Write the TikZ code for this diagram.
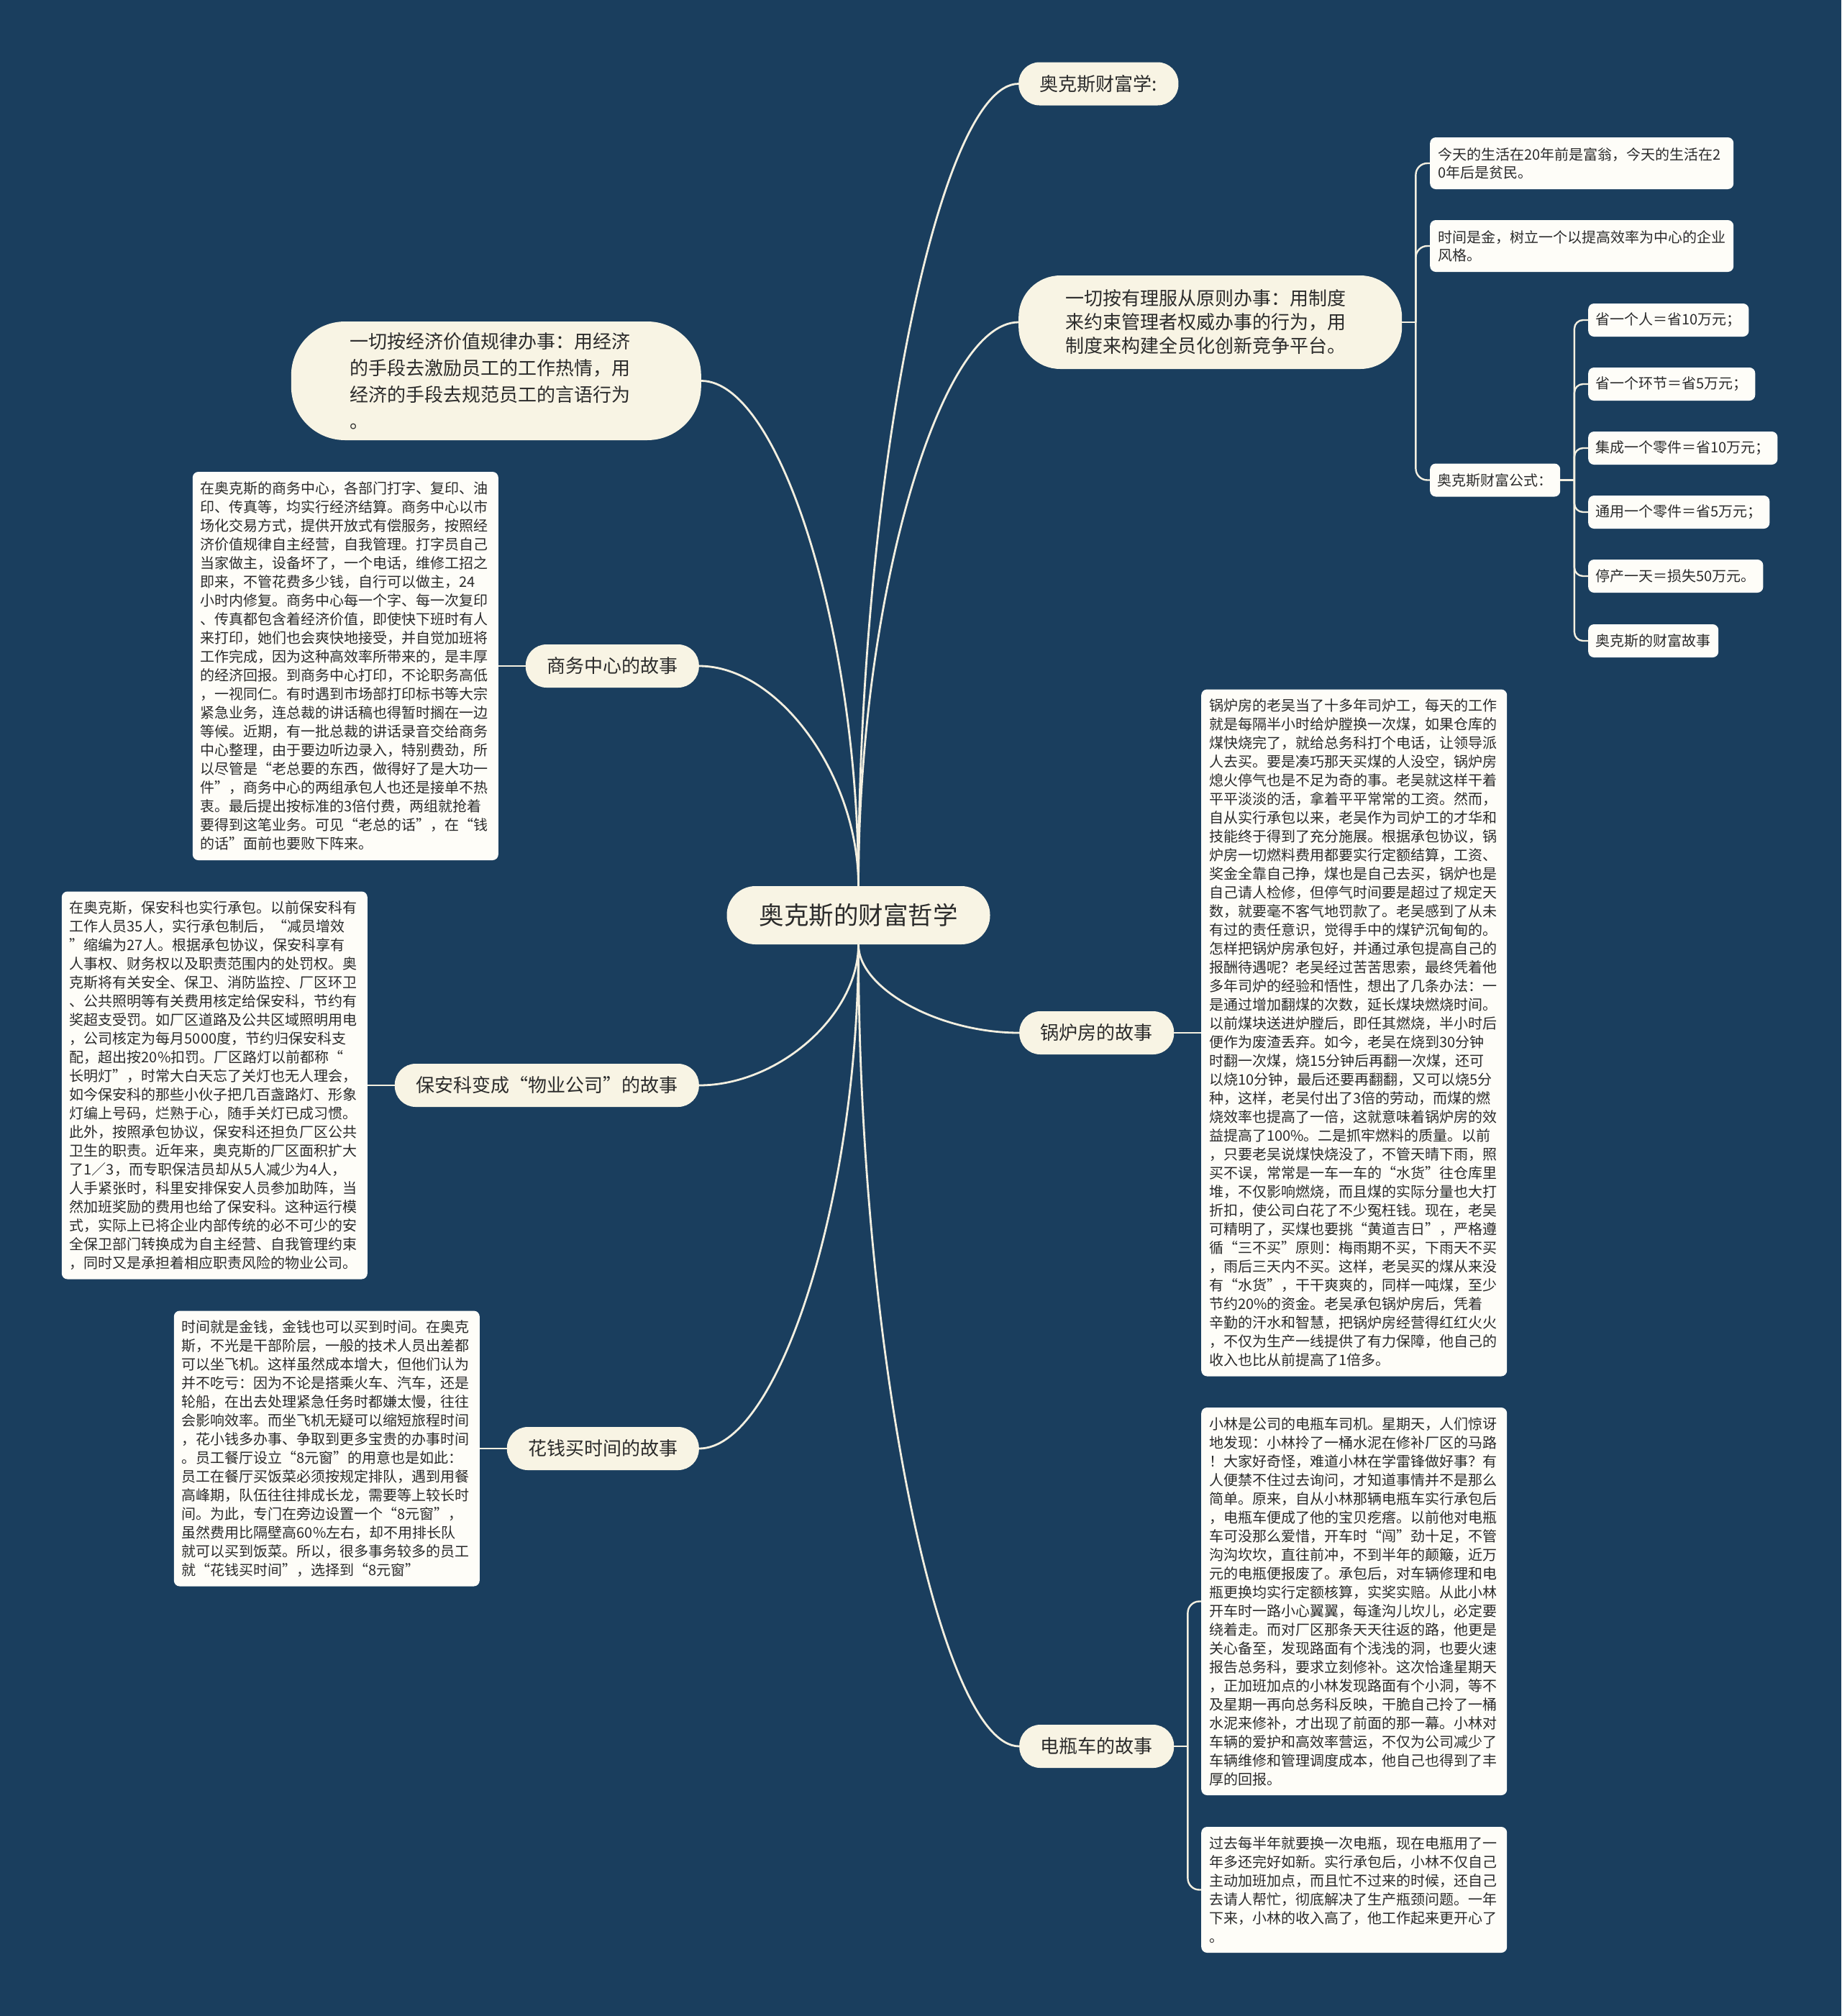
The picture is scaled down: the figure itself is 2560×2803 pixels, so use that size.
\documentclass[tikz,border=0pt]{standalone}
\usepackage{fontspec}
\setmainfont{Noto Sans CJK SC}
\usetikzlibrary{calc}
\definecolor{bg}{HTML}{1A3E5E}
\definecolor{pillc}{HTML}{F8F4E4}
\definecolor{boxc}{HTML}{FEFDF8}
\definecolor{linec}{HTML}{F3EFE0}
\definecolor{txt}{HTML}{2B2B2B}
\begin{document}
\begin{tikzpicture}[x=1pt,y=-1pt,
  pill/.style={fill=pillc, text=txt, rounded corners=29pt, minimum height=60pt, inner xsep=29.5pt, inner ysep=0pt, font=\fontsize{26}{33}\selectfont},
  tbox/.style={fill=boxc, text=txt, rounded corners=8pt, text width=403pt, inner xsep=11pt, inner ysep=0pt, align=left, font=\fontsize{20}{26}\selectfont},
  sbox/.style={fill=boxc, text=txt, rounded corners=8pt, inner xsep=10.5pt, inner ysep=0pt, minimum height=46pt, font=\fontsize{20}{25}\selectfont, anchor=west},
  conn/.style={draw=linec, line width=2.8pt},
  subc/.style={draw=linec, line width=2.4pt},
  curvy/.style={to path={let \p1=(\tikztostart), \p2=(\tikztotarget) in .. controls (\x1,{0.5*\y1+0.5*\y2}) and ({0.5*\x1+0.5*\x2},\y2) .. (\tikztotarget)}}
]
\fill[bg] (0,0) rectangle (2560,2803);
\useasboundingbox (0,0) rectangle (2560,2803);

% central
\node[pill, minimum height=81pt, rounded corners=40pt, inner xsep=45pt, font=\fontsize{34.5}{40}\selectfont] (C) at (1193.5,1272.5) {奥克斯的财富哲学};

% first level
\node[pill, anchor=west] (L1) at (1416,116.5) {奥克斯财富学:};
\node[pill, anchor=west, minimum height=130pt, rounded corners=58pt, inner xsep=65pt, text width=403pt, align=left] (L2) at (1416,448) {一切按有理服从原则办事：用制度\\来约束管理者权威办事的行为，用\\制度来构建全员化创新竞争平台。};
\node[pill, anchor=east, minimum height=165pt, rounded corners=75pt, inner xsep=82pt, text width=406pt, align=left, font=\fontsize{26}{37}\selectfont] (L3) at (975,529.5) {一切按经济价值规律办事：用经济\\的手段去激励员工的工作热情，用\\经济的手段去规范员工的言语行为\\。};
\node[pill, anchor=east] (L4) at (972,926) {商务中心的故事};
\node[pill, anchor=east] (L5) at (972,1509) {保安科变成“物业公司”的故事};
\node[pill, anchor=east] (L6) at (972,2014) {花钱买时间的故事};
\node[pill, anchor=west] (R1) at (1417,1436) {锅炉房的故事};
\node[pill, anchor=west] (R2) at (1417,2428) {电瓶车的故事};

% second level under L2
\node[sbox, text width=400pt, align=left, inner xsep=11pt, minimum height=72pt] (S1) at (1988,227) {今天的生活在20年前是富翁，今天的生活在2\\0年后是贫民。};
\node[sbox, text width=400pt, align=left, inner xsep=11pt, minimum height=72pt] (S2) at (1988,342) {时间是金，树立一个以提高效率为中心的企业\\风格。};
\node[sbox] (S3) at (1988,667.5) {奥克斯财富公式：};

\node[sbox] (F1) at (2208,445) {省一个人＝省10万元；};
\node[sbox] (F2) at (2208,534) {省一个环节＝省5万元；};
\node[sbox] (F3) at (2208,623) {集成一个零件＝省10万元；};
\node[sbox] (F4) at (2208,712) {通用一个零件＝省5万元；};
\node[sbox] (F5) at (2208,801) {停产一天＝损失50万元。};
\node[sbox] (F6) at (2208,891) {奥克斯的财富故事};

% text boxes
\node[tbox, minimum height=540pt, anchor=east] (T1) at (693,926) {在奥克斯的商务中心，各部门打字、复印、油\\印、传真等，均实行经济结算。商务中心以市\\场化交易方式，提供开放式有偿服务，按照经\\济价值规律自主经营，自我管理。打字员自己\\当家做主，设备坏了，一个电话，维修工招之\\即来，不管花费多少钱，自行可以做主，24\\小时内修复。商务中心每一个字、每一次复印\\、传真都包含着经济价值，即使快下班时有人\\来打印，她们也会爽快地接受，并自觉加班将\\工作完成，因为这种高效率所带来的，是丰厚\\的经济回报。到商务中心打印，不论职务高低\\，一视同仁。有时遇到市场部打印标书等大宗\\紧急业务，连总裁的讲话稿也得暂时搁在一边\\等候。近期，有一批总裁的讲话录音交给商务\\中心整理，由于要边听边录入，特别费劲，所\\以尽管是“老总要的东西，做得好了是大功一\\件”，商务中心的两组承包人也还是接单不热\\衷。最后提出按标准的3倍付费，两组就抢着\\要得到这笔业务。可见“老总的话”，在“钱\\的话”面前也要败下阵来。};

\node[tbox, minimum height=539pt, anchor=east] (T2) at (511,1509) {在奥克斯，保安科也实行承包。以前保安科有\\工作人员35人，实行承包制后，“减员增效\\”缩编为27人。根据承包协议，保安科享有\\人事权、财务权以及职责范围内的处罚权。奥\\克斯将有关安全、保卫、消防监控、厂区环卫\\、公共照明等有关费用核定给保安科，节约有\\奖超支受罚。如厂区道路及公共区域照明用电\\，公司核定为每月5000度，节约归保安科支\\配，超出按20\%扣罚。厂区路灯以前都称“\\长明灯”，时常大白天忘了关灯也无人理会，\\如今保安科的那些小伙子把几百盏路灯、形象\\灯编上号码，烂熟于心，随手关灯已成习惯。\\此外，按照承包协议，保安科还担负厂区公共\\卫生的职责。近年来，奥克斯的厂区面积扩大\\了1／3，而专职保洁员却从5人减少为4人，\\人手紧张时，科里安排保安人员参加助阵，当\\然加班奖励的费用也给了保安科。这种运行模\\式，实际上已将企业内部传统的必不可少的安\\全保卫部门转换成为自主经营、自我管理约束\\，同时又是承担着相应职责风险的物业公司。};

\node[tbox, minimum height=383pt, anchor=east] (T3) at (667,2014) {时间就是金钱，金钱也可以买到时间。在奥克\\斯，不光是干部阶层，一般的技术人员出差都\\可以坐飞机。这样虽然成本增大，但他们认为\\并不吃亏：因为不论是搭乘火车、汽车，还是\\轮船，在出去处理紧急任务时都嫌太慢，往往\\会影响效率。而坐飞机无疑可以缩短旅程时间\\，花小钱多办事、争取到更多宝贵的办事时间\\。员工餐厅设立“8元窗”的用意也是如此：\\员工在餐厅买饭菜必须按规定排队，遇到用餐\\高峰期，队伍往往排成长龙，需要等上较长时\\间。为此，专门在旁边设置一个“8元窗”，\\虽然费用比隔壁高60\%左右，却不用排长队\\就可以买到饭菜。所以，很多事务较多的员工\\就“花钱买时间”，选择到“8元窗”};

\node[tbox, minimum height=955pt, anchor=west] (T4) at (1670,1436) {锅炉房的老吴当了十多年司炉工，每天的工作\\就是每隔半小时给炉膛换一次煤，如果仓库的\\煤快烧完了，就给总务科打个电话，让领导派\\人去买。要是凑巧那天买煤的人没空，锅炉房\\熄火停气也是不足为奇的事。老吴就这样干着\\平平淡淡的活，拿着平平常常的工资。然而，\\自从实行承包以来，老吴作为司炉工的才华和\\技能终于得到了充分施展。根据承包协议，锅\\炉房一切燃料费用都要实行定额结算，工资、\\奖金全靠自己挣，煤也是自己去买，锅炉也是\\自己请人检修，但停气时间要是超过了规定天\\数，就要毫不客气地罚款了。老吴感到了从未\\有过的责任意识，觉得手中的煤铲沉甸甸的。\\怎样把锅炉房承包好，并通过承包提高自己的\\报酬待遇呢？老吴经过苦苦思索，最终凭着他\\多年司炉的经验和悟性，想出了几条办法：一\\是通过增加翻煤的次数，延长煤块燃烧时间。\\以前煤块送进炉膛后，即任其燃烧，半小时后\\便作为废渣丢弃。如今，老吴在烧到30分钟\\时翻一次煤，烧15分钟后再翻一次煤，还可\\以烧10分钟，最后还要再翻翻，又可以烧5分\\种，这样，老吴付出了3倍的劳动，而煤的燃\\烧效率也提高了一倍，这就意味着锅炉房的效\\益提高了100\%。二是抓牢燃料的质量。以前\\，只要老吴说煤快烧没了，不管天晴下雨，照\\买不误，常常是一车一车的“水货”往仓库里\\堆，不仅影响燃烧，而且煤的实际分量也大打\\折扣，使公司白花了不少冤枉钱。现在，老吴\\可精明了，买煤也要挑“黄道吉日”，严格遵\\循“三不买”原则：梅雨期不买，下雨天不买\\，雨后三天内不买。这样，老吴买的煤从来没\\有“水货”，干干爽爽的，同样一吨煤，至少\\节约20\%的资金。老吴承包锅炉房后，凭着\\辛勤的汗水和智慧，把锅炉房经营得红红火火\\，不仅为生产一线提供了有力保障，他自己的\\收入也比从前提高了1倍多。};

\node[tbox, minimum height=539pt, anchor=west] (T5) at (1670,2226.5) {小林是公司的电瓶车司机。星期天，人们惊讶\\地发现：小林拎了一桶水泥在修补厂区的马路\\！大家好奇怪，难道小林在学雷锋做好事？有\\人便禁不住过去询问，才知道事情并不是那么\\简单。原来，自从小林那辆电瓶车实行承包后\\，电瓶车便成了他的宝贝疙瘩。以前他对电瓶\\车可没那么爱惜，开车时“闯”劲十足，不管\\沟沟坎坎，直往前冲，不到半年的颠簸，近万\\元的电瓶便报废了。承包后，对车辆修理和电\\瓶更换均实行定额核算，实奖实赔。从此小林\\开车时一路小心翼翼，每逢沟儿坎儿，必定要\\绕着走。而对厂区那条天天往返的路，他更是\\关心备至，发现路面有个浅浅的洞，也要火速\\报告总务科，要求立刻修补。这次恰逢星期天\\，正加班加点的小林发现路面有个小洞，等不\\及星期一再向总务科反映，干脆自己拎了一桶\\水泥来修补，才出现了前面的那一幕。小林对\\车辆的爱护和高效率营运，不仅为公司减少了\\车辆维修和管理调度成本，他自己也得到了丰\\厚的回报。};

\node[tbox, minimum height=175pt, anchor=west] (T6) at (1670,2627.5) {过去每半年就要换一次电瓶，现在电瓶用了一\\年多还完好如新。实行承包后，小林不仅自己\\主动加班加点，而且忙不过来的时候，还自己\\去请人帮忙，彻底解决了生产瓶颈问题。一年\\下来，小林的收入高了，他工作起来更开心了\\。};

% central connectors
\draw[conn, curvy] (C.north) to (L1.west);
\draw[conn, curvy] (C.north) to (L2.west);
\draw[conn, curvy] (C.north) to (L3.east);
\draw[conn, curvy] (C.north) to (L4.east);
\draw[conn, curvy] (C.south) to (L5.east);
\draw[conn, curvy] (C.south) to (L6.east);
\draw[conn, curvy] (C.south) to (R1.west);
\draw[conn, curvy] (C.south) to (R2.west);

% direct connectors
\draw[subc] (L4.west) -- (T1.east);
\draw[subc] (L5.west) -- (T2.east);
\draw[subc] (L6.west) -- (T3.east);
\draw[subc] (R1.east) -- (T4.west);

% spines
\coordinate (k2) at ($(L2.east)+(19,0)$);
\draw[subc] (L2.east) -- (k2);
\draw[subc, rounded corners=16pt] (k2) |- (S1.west);
\draw[subc, rounded corners=16pt] (k2) |- (S2.west);
\draw[subc, rounded corners=16pt] (k2) |- (S3.west);

\coordinate (k3) at ($(S3.east)+(19.5,0)$);
\draw[subc] (S3.east) -- (k3);
\foreach \f in {F1,F2,F3,F4,F5,F6} {
  \draw[subc, rounded corners=12pt] (k3) |- (\f.west);
}

\coordinate (k5) at ($(R2.east)+(19,0)$);
\draw[subc] (R2.east) -- (k5);
\draw[subc, rounded corners=16pt] (k5) |- (T5.west);
\draw[subc, rounded corners=16pt] (k5) |- (T6.west);
\end{tikzpicture}
\end{document}
